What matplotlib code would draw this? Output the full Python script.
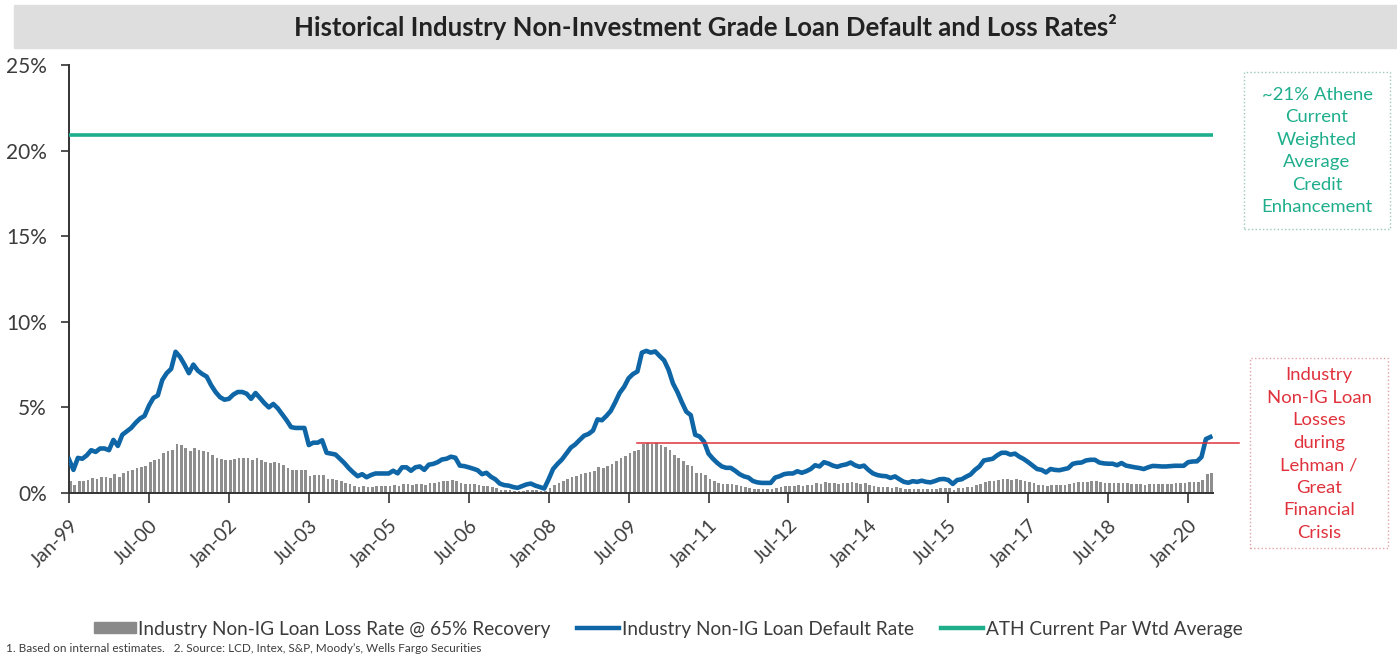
import numpy as np
import matplotlib
matplotlib.use('Agg')
import matplotlib.pyplot as plt
from matplotlib.patches import Rectangle, Patch
from matplotlib.lines import Line2D

plt.rcParams['font.family'] = ['Lato', 'DejaVu Sans']

# monthly non-IG loan default rate (%), Jan-99 .. Jun-20
default_rate = [
    1.96, 1.35, 2.05, 2.00, 2.20, 2.50, 2.40, 2.60, 2.60, 2.50, 3.10, 2.75,  # 1999
    3.40, 3.60, 3.80, 4.10, 4.35, 4.50, 5.10, 5.55, 5.70, 6.60, 7.00, 7.25,  # 2000
    8.25, 7.95, 7.50, 7.00, 7.50, 7.15, 6.95, 6.80, 6.30, 5.90, 5.60, 5.45,  # 2001
    5.50, 5.75, 5.90, 5.90, 5.80, 5.50, 5.84, 5.55, 5.25, 5.00, 5.20, 4.95,  # 2002
    4.60, 4.25, 3.85, 3.80, 3.80, 3.80, 2.80, 2.94, 2.94, 3.08, 2.35, 2.30,  # 2003
    2.25, 2.00, 1.75, 1.45, 1.20, 0.98, 1.10, 0.92, 1.05, 1.14, 1.14, 1.14,  # 2004
    1.14, 1.30, 1.15, 1.50, 1.50, 1.30, 1.50, 1.55, 1.35, 1.65, 1.70, 1.80,  # 2005
    1.96, 2.00, 2.12, 2.06, 1.60, 1.57, 1.50, 1.42, 1.33, 1.10, 1.18, 0.95,  # 2006
    0.80, 0.55, 0.46, 0.43, 0.35, 0.30, 0.40, 0.50, 0.55, 0.43, 0.35, 0.26,  # 2007
    0.80, 1.40, 1.70, 1.96, 2.30, 2.65, 2.84, 3.10, 3.35, 3.45, 3.65, 4.30,  # 2008
    4.25, 4.50, 4.80, 5.30, 5.85, 6.20, 6.70, 6.95, 7.10, 8.20, 8.30, 8.20,  # 2009
    8.27, 8.00, 7.75, 7.20, 6.40, 5.90, 5.30, 4.75, 4.55, 3.40, 3.30, 3.00,  # 2010
    2.30, 2.00, 1.75, 1.55, 1.47, 1.47, 1.30, 1.10, 0.97, 0.90, 0.70, 0.62,  # 2011
    0.59, 0.59, 0.59, 0.90, 0.98, 1.10, 1.14, 1.14, 1.27, 1.18, 1.27, 1.40,  # 2012
    1.62, 1.55, 1.80, 1.72, 1.60, 1.53, 1.62, 1.67, 1.78, 1.62, 1.53, 1.60,  # 2013
    1.35, 1.15, 1.05, 1.00, 0.98, 0.88, 0.97, 0.80, 0.65, 0.60, 0.69, 0.65,  # 2014
    0.72, 0.65, 0.62, 0.70, 0.80, 0.82, 0.76, 0.53, 0.76, 0.80, 0.95, 1.08,  # 2015
    1.35, 1.55, 1.90, 1.95, 2.00, 2.20, 2.35, 2.35, 2.24, 2.30, 2.12, 1.98,  # 2016
    1.80, 1.60, 1.40, 1.35, 1.20, 1.40, 1.35, 1.33, 1.39, 1.45, 1.70, 1.76,  # 2017
    1.78, 1.90, 1.94, 1.94, 1.78, 1.73, 1.71, 1.71, 1.62, 1.75, 1.60, 1.55,  # 2018
    1.50, 1.46, 1.40, 1.50, 1.58, 1.57, 1.55, 1.55, 1.57, 1.59, 1.59, 1.59,  # 2019
    1.80, 1.84, 1.85, 2.10, 3.15, 3.27,                                      # 2020
]
recovery = 0.65            # loss rate = default rate x (1 - recovery)
athene_enhancement = 20.9  # ~21% Athene credit enhancement
crisis_start = 128         # Sep-09, month index where the GFC loss line starts

tick_labels = ['Jan-99', 'Jul-00', 'Jan-02', 'Jul-03', 'Jan-05', 'Jul-06', 'Jan-08',
               'Jul-09', 'Jan-11', 'Jul-12', 'Jan-14', 'Jul-15', 'Jan-17', 'Jul-18', 'Jan-20']
y_ticks = [0, 5, 10, 15, 20, 25]

months = np.arange(len(default_rate))
loss_rate = np.array(default_rate) * (1 - recovery)
crisis_loss = loss_rate.max()

W, H = 1397, 656
txt = '#3c3c3c'
blue = '#0f66a6'
green = '#1fae8c'
red = '#e0323c'
grey = '#8e8e8e'

fig = plt.figure(figsize=(W / 100, H / 100), dpi=100)

# title banner
fig.patches.append(Rectangle((14 / W, 1 - 48 / H), 1 - 14 / W, 43 / H,
                             transform=fig.transFigure, color='#dedede', zorder=0))
fig.text(705 / W, 1 - 27 / H,
         'Historical Industry Non-Investment Grade Loan Default and Loss Rates\u00b2',
         ha='center', va='center', fontsize=18.5, color='#222222', fontweight='bold')

ax = fig.add_axes([69 / W, 1 - 493 / H, (1213 - 69) / W, (493 - 65) / H])
ax.bar(months, loss_rate, width=0.6, color=grey, align='edge', zorder=2)
ax.plot(months, default_rate, color=blue, lw=3.3, solid_joinstyle='round', zorder=3)
ax.axhline(athene_enhancement, color=green, lw=2.6, zorder=3)
ax.plot([crisis_start, 263.5], [crisis_loss, crisis_loss], color=red, lw=1.1,
        clip_on=False, zorder=4)

ax.set_xlim(0, 257.6)
ax.set_ylim(0, 25)
ax.set_yticks(y_ticks)
ax.set_yticklabels(['{}%'.format(v) for v in y_ticks])
ax.set_xticks(np.arange(len(tick_labels)) * 18)
ax.set_xticklabels(tick_labels, rotation=45, ha='right', rotation_mode='anchor')
for s in ['top', 'right']:
    ax.spines[s].set_visible(False)
for s in ['left', 'bottom']:
    ax.spines[s].set_color('#333333')
    ax.spines[s].set_linewidth(1.4)
ax.tick_params(axis='y', length=6, width=1.2, colors='#333333', labelsize=15,
               labelcolor=txt, pad=10)
ax.tick_params(axis='x', length=7, width=1.2, colors='#333333', labelsize=14,
               labelcolor=txt, pad=10)

# annotation boxes
fig.patches.append(Rectangle((1244 / W, 1 - 229 / H), 146 / W, 157 / H, transform=fig.transFigure,
                             fill=False, ec='#9cc9bb', ls=':', lw=1.0))
fig.text(1317 / W, 1 - 151 / H,
         '~21% Athene\nCurrent\nWeighted\nAverage\nCredit\nEnhancement',
         ha='center', va='center', fontsize=13.3, color=green, linespacing=1.5)
fig.patches.append(Rectangle((1250 / W, 1 - 548 / H), 138 / W, 190 / H, transform=fig.transFigure,
                             fill=False, ec='#e5a3a8', ls=':', lw=1.0))
fig.text(1319 / W, 1 - 454 / H,
         'Industry\nNon-IG Loan\nLosses\nduring\nLehman /\nGreat\nFinancial\nCrisis',
         ha='center', va='center', fontsize=13.3, color=red, linespacing=1.5)

# legend
handles = [Patch(color='#8a8a8a'),
           Line2D([], [], color=blue, lw=3.2),
           Line2D([], [], color=green, lw=3.2)]
labels = ['Industry Non-IG Loan Loss Rate @ 65% Recovery',
          'Industry Non-IG Loan Default Rate',
          'ATH Current Par Wtd Average']
leg = fig.legend(handles, labels, loc='center', bbox_to_anchor=(668 / W, 1 - 629 / H),
                 ncol=3, frameon=False, fontsize=13.7, handlelength=2.2, handleheight=0.5,
                 handletextpad=0.15, columnspacing=1.4)
for t in leg.get_texts():
    t.set_color(txt)

fig.text(6 / W, 1 - 648 / H,
         '1. Based on internal estimates.   2. Source: LCD, Intex, S&P, Moody\u2019s, Wells Fargo Securities',
         ha='left', va='center', fontsize=8.5, color=txt)

fig.savefig('out.png', dpi=100)
